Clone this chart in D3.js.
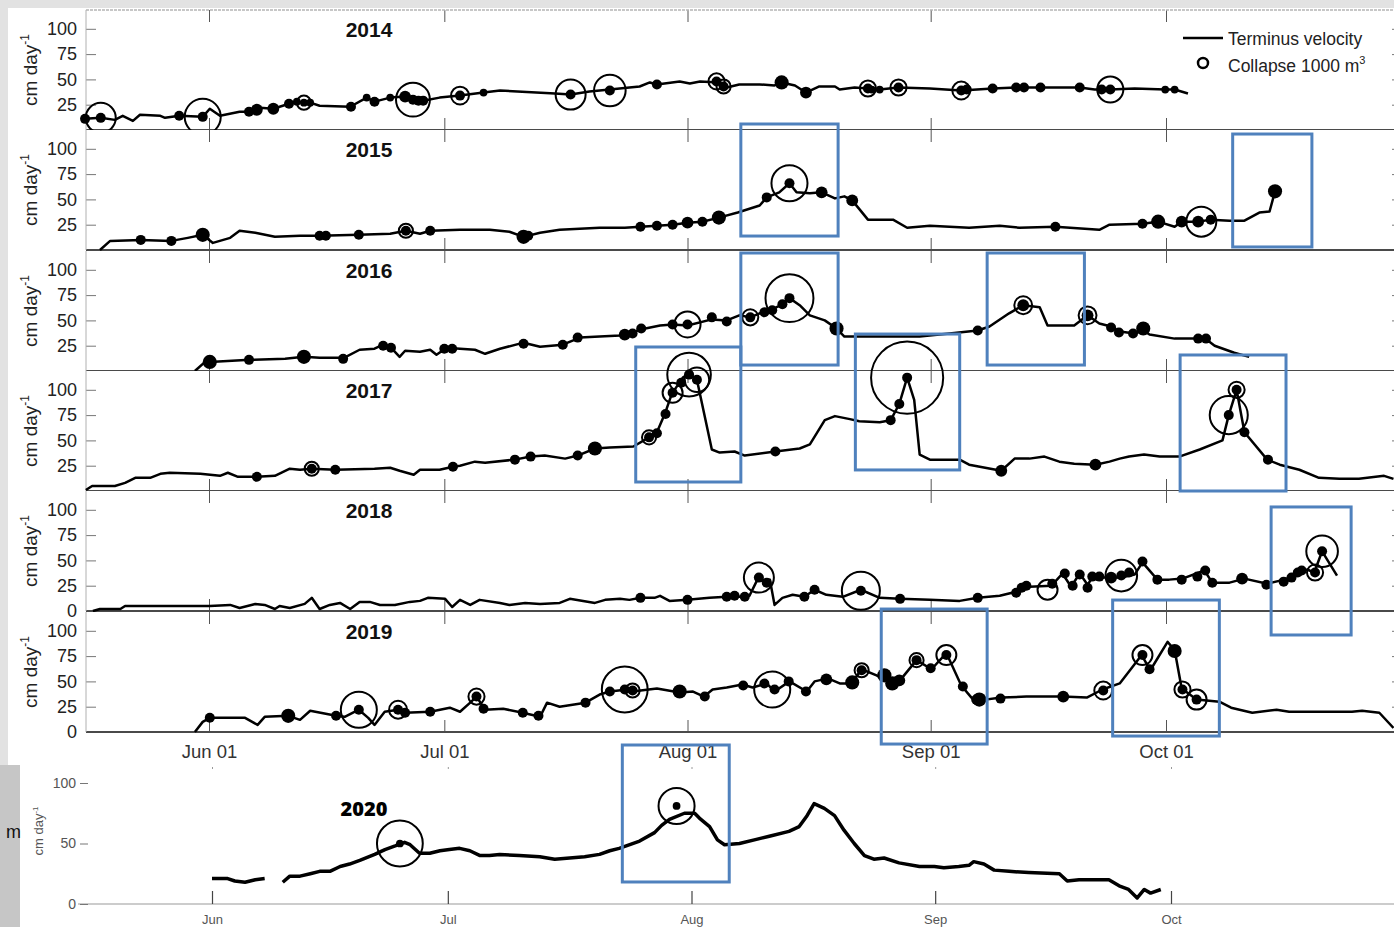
<!DOCTYPE html>
<html lang="en">
<head>
<meta charset="UTF-8">
<title>Terminus velocity and collapses 2014-2020</title>
<script src="https://d3js.org/d3.v7.min.js"></script>
<style>
  body { margin: 0; background: #e2e2e2; }
  svg { display: block; font-family: "Liberation Sans", Arial, sans-serif; }
</style>
</head>
<body>
<svg id="chart" width="1394" height="927"></svg>
<script>
// ---- data: [day of year, velocity cm/day] ----
const years = [2014, 2015, 2016, 2017, 2018, 2019];

const vel2014 = [[136.2,11],[138.2,12],[140.0,10],[141.0,14],[142.3,9],[143.2,15],[145.8,14],[146.4,12],[148.2,14],[151.2,13],[152.1,21],[153.4,14],[155.9,18],[157.1,18],[158.1,20],[158.5,22],[160.2,21],[162.2,26],[163.2,28],[164.1,27],[164.9,27],[166.1,24],[170.0,23],[172.1,32],[173.1,28],[175.1,32],[177.0,33],[178.0,30],[179.3,29],[181.4,32],[184.0,34],[187.0,37],[189.1,39],[196.1,36],[198.1,35],[200.5,38],[203.1,40],[205.6,42],[206.9,43],[208.2,47],[209.1,45],[212.0,48],[213.3,46],[214.6,48],[217.0,47],[218.0,42],[219.6,45],[222.2,45],[224.1,44],[225.0,47],[226.7,44],[228.1,37],[229.8,43],[231.8,43],[232.4,40],[234.3,42],[236.0,41],[237.5,40],[239.9,42],[243.9,41],[247.9,39],[251.9,41],[254.9,42],[258.0,42],[263.0,42],[264.9,40],[266.9,40],[270.0,41],[273.9,40],[275.1,40],[276.8,36]];
const vel2015 = [[138.1,0],[139.4,9],[143.3,10],[147.2,9],[149.3,12],[151.2,15],[152.5,7],[154.7,12],[155.9,19],[157.9,17],[160.4,13],[163.6,14],[166.1,14],[171.1,15],[175.1,16],[177.1,19],[178.9,16],[180.2,19],[184.0,20],[187.8,20],[190.3,18],[192.1,13],[194.2,17],[196.7,20],[201.8,22],[205.0,22],[207.0,23],[209.1,24],[211.1,25],[213.0,27],[214.9,28],[217.0,32],[219.4,37],[222.2,44],[223.1,52],[224.7,57],[226.0,66],[226.9,57],[228.6,56],[230.1,57],[231.8,51],[233.0,53],[234.0,49],[236.0,30],[239.2,30],[241.0,22],[243.9,24],[248.9,22],[252.8,24],[255.3,22],[259.9,23],[265.5,20],[266.8,25],[271.0,26],[273.0,28],[275.1,23],[276.0,28],[278.1,28],[279.7,30],[282.1,29],[284.0,29],[285.9,37],[287.2,38],[287.9,58]];
const vel2016 = [[150.2,0],[151.5,9],[152.1,9],[157.2,11],[161.7,12],[164.1,14],[166.1,13],[169.2,13],[171.2,21],[173.1,22],[174.2,26],[175.2,23],[176.3,14],[177.0,20],[178.9,19],[180.2,21],[181.0,16],[182.3,23],[184.0,22],[185.9,21],[187.2,17],[189.1,22],[192.1,28],[194.2,24],[197.1,26],[199.3,33],[201.8,34],[204.4,35],[205.3,36],[207.0,41],[209.5,45],[211.1,46],[213.0,45],[216.1,51],[218.0,50],[219.6,55],[221.0,53],[222.2,57],[223.5,60],[224.9,65],[226.0,72],[227.3,65],[228.6,55],[230.5,50],[232.0,42],[233.0,34],[234.9,34],[242.6,34],[246.4,37],[250.0,40],[251.5,44],[254.0,57],[255.8,65],[257.9,63],[258.9,45],[262.3,45],[264.0,55],[265.5,47],[267.0,44],[268.1,39],[270.0,37],[270.9,41],[271.9,36],[275.1,32],[278.3,32],[279.0,32],[280.2,25],[282.7,18],[284.6,14]];
const vel2017 = [[136.3,1],[137.1,5],[140.0,5],[141.3,8],[142.6,13],[144.5,13],[145.8,17],[147.0,18],[150.9,17],[153.4,15],[154.4,18],[155.7,14],[158.1,14],[160.4,15],[162.3,22],[163.6,21],[165.1,22],[168.1,21],[173.1,22],[175.1,23],[176.3,20],[178.1,16],[178.9,21],[181.4,21],[183.1,24],[184.0,25],[185.9,29],[187.2,28],[191.0,31],[193.0,34],[194.8,35],[197.4,32],[199.0,35],[201.2,42],[203.1,43],[206.1,44],[208.1,53],[209.1,58],[210.1,76],[211.0,96],[212.4,112],[213.2,116],[214.2,110],[216.1,41],[217.1,38],[219.0,39],[220.3,35],[224.2,39],[227.3,42],[228.6,46],[230.5,70],[231.8,74],[233.7,71],[234.9,69],[237.5,68],[238.9,70],[240.0,86],[241.0,112],[241.9,90],[242.6,36],[243.9,31],[247.7,31],[248.9,26],[253.0,20],[254.7,32],[256.6,32],[258.5,34],[260.4,29],[262.3,27],[265.0,26],[266.8,29],[268.1,32],[269.3,34],[271.2,36],[273.2,34],[275.7,34],[278.3,41],[281.2,50],[282.0,75],[283.0,100],[284.0,58],[286.9,31],[288.5,26],[291.0,21],[293.5,13],[296.1,12],[298.6,12],[301.8,15],[303.0,12]];
const vel2018 = [[137.2,0],[138.1,2],[140.7,2],[141.3,5],[152.1,5],[154.7,6],[155.9,3],[157.9,7],[159.1,6],[160.4,2],[161.0,5],[162.3,3],[164.2,7],[165.1,13],[166.1,2],[167.4,6],[168.7,8],[170.0,2],[171.2,9],[172.5,9],[173.8,6],[175.7,6],[177.6,9],[178.9,10],[179.9,13],[182.1,12],[183.0,4],[184.0,11],[185.3,6],[186.5,11],[189.1,8],[190.3,6],[192.3,8],[194.2,7],[196.7,8],[198.0,12],[201.2,8],[202.5,11],[204.4,12],[205.6,11],[207.0,13],[208.8,13],[209.5,15],[210.7,10],[213.0,11],[215.8,13],[218.0,14],[220.3,14],[220.9,15],[222.1,34],[223.1,28],[223.5,31],[224.1,6],[225.1,13],[226.4,16],[227.9,14],[229.2,21],[230.7,16],[232.8,14],[235.1,21],[237.5,13],[240.1,12],[243.9,11],[247.7,10],[250.0,13],[252.8,15],[254.9,19],[256.6,24],[259.4,25],[260.8,37],[261.9,24],[263.0,37],[264.0,26],[264.7,34],[265.5,33],[268.3,33],[270.0,36],[271.0,48],[272.9,31],[274.4,31],[276.1,32],[278.9,40],[279.9,28],[282.1,28],[284.0,32],[286.9,27],[289.1,31],[291.0,37],[292.0,41],[292.9,38],[293.9,59],[295.8,35]];
const vel2019 = [[150.2,0],[151.2,10],[152.1,14],[156.6,14],[158.2,7],[159.1,15],[162.1,16],[163.6,12],[164.9,21],[168.2,16],[169.3,15],[171.1,22],[172.3,14],[173.1,7],[174.4,20],[176.1,22],[177.0,19],[180.2,20],[182.7,24],[184.0,20],[185.3,29],[186.1,35],[187.2,22],[189.5,23],[192.0,19],[194.2,15],[195.1,29],[196.7,25],[200.0,29],[201.8,37],[203.1,40],[205.3,42],[206.0,40],[209.1,43],[212.0,39],[213.7,40],[215.1,35],[216.2,42],[218.0,44],[220.0,47],[221.3,44],[223.1,48],[224.1,40],[226.0,50],[228.2,40],[229.2,50],[230.9,53],[232.4,48],[233.9,48],[235.2,62],[237.1,56],[239.1,48],[240.4,54],[242.2,71],[244.1,62],[246.0,78],[247.9,46],[249.2,34],[250.0,31],[253.0,34],[256.2,35],[260.8,35],[263.9,34],[265.9,42],[268.1,48],[269.7,64],[270.9,76],[272.0,61],[274.2,89],[275.1,81],[276.0,43],[277.9,32],[280.8,30],[282.3,24],[285.0,19],[288.1,22],[289.7,20],[297.7,20],[299.0,21],[301.2,19],[303.0,4]];
const vel2020a = [[152.0,21],[153.0,21],[154.0,21],[154.9,19],[156.2,18],[157.5,20],[158.7,21]];
const vel2020b = [[161.0,18],[161.9,23],[163.2,23],[164.5,25],[165.7,27],[167.0,27],[168.3,31],[169.5,33],[170.8,36],[172.7,41],[174.0,45],[175.3,48],[176.5,51],[177.2,49],[178.4,42],[179.7,42],[181.0,44],[182.2,45],[183.5,46],[184.8,44],[186.1,40],[187.3,40],[188.6,41],[191.1,40],[193.7,39],[195.6,37],[197.5,38],[199.4,39],[201.3,41],[202.6,44],[203.8,46],[206.4,52],[208.3,59],[209.2,65],[210.2,70],[212.1,75],[213.4,75],[214.0,71],[215.3,64],[216.3,53],[217.2,49],[219.1,50],[221.0,53],[222.9,56],[225.4,60],[226.7,64],[227.7,73],[228.6,83],[229.9,79],[231.2,73],[232.4,61],[233.7,50],[235.0,40],[236.2,37],[237.5,38],[239.4,34],[242.0,31],[243.9,31],[245.1,30],[247.0,31],[248.3,32],[248.9,35],[250.2,33],[251.5,28],[253.4,27],[255.9,26],[259.8,25],[260.8,19],[262.3,20],[266.1,20],[267.4,15],[268.6,12],[269.7,5],[270.6,12],[271.4,9],[272.7,12]];

// ---- collapses: [day of year, velocity, dot volume (1000 m3), ring volume (1000 m3)] ----
const col2014 = [[136.2,11,1,0],[138.2,12,1,9],[148.2,14,1,0],[151.2,13,1,13],[157.1,18,1,0],[158.1,20,1.4,0],[160.2,21,1.4,0],[162.2,26,1,0],[163.2,28,0.6,0],[164.1,27,0.6,2],[164.9,27,0.6,0],[170.1,23,1,0],[172.1,32,0.6,0],[173.1,28,1,0],[175.1,32,0.6,0],[177.0,33,1.4,0],[178.0,30,1,11.5],[178.7,29,1,0],[179.3,29,1,0],[184.0,34,1,3.2],[187.0,37,0.6,0],[198.1,35,1,9],[203.1,39,1,10],[209.1,45,1,0],[216.7,48,1,2.6],[217.6,43,1,2],[225.0,47,2,0],[228.1,37,1.4,0],[236.0,41,1,2.6],[236.5,40,0.6,0],[237.5,40,0.6,0],[239.9,42,1,2.6],[247.9,39,1,3.2],[248.6,40,1,0],[251.9,41,1,0],[254.9,42,1,0],[255.9,42,1,0],[258.0,42,1,0],[263.0,42,1,0],[265.8,40,1,0],[266.9,40,1,6.8],[273.9,40,0.6,0],[275.1,40,0.6,0]];
const col2015 = [[143.3,10,1,0],[147.2,9,1,0],[151.2,15,2,0],[166.1,14,1,0],[166.9,14,1,0],[171.1,15,1,0],[177.1,19,1,2],[180.2,19,1,0],[192.1,13,2,0],[192.7,14,1,0],[207.0,23,1,0],[209.1,24,1,0],[211.1,25,1,0],[213.0,27,1.4,0],[214.9,28,1,0],[217.0,32,2,0],[223.1,52,1,0],[226.0,66,1,13],[230.1,57,1.4,0],[234.0,49,1.4,0],[259.9,23,1,0],[271.0,26,1,0],[273.0,28,2,0],[276.0,28,1.4,0],[278.1,28,1.4,0],[278.5,28,0,9],[279.7,30,1,0],[287.9,58,2,0]];
const col2016 = [[152.1,9,2,0],[157.1,11,1,0],[164.1,14,2,0],[169.1,12,1,0],[174.2,25,1,0],[175.2,23,1,0],[182.0,22,1,0],[183.0,22,1,0],[192.1,27,1,0],[197.1,26,1,0],[199.0,33,1,0],[205.0,36,1.4,0],[206.0,37,1,0],[207.1,42,1,0],[211.1,46,1,0],[213.0,46,1,6.8],[216.1,53,1,0],[218.0,49,1,0],[221.0,53,1,2.6],[222.8,58,1,0],[223.8,60,1,0],[225.1,66,1,0],[226.0,72,1,23],[232.0,42,2,0],[250.0,40,1,0],[255.8,65,1.4,3.2],[264.0,55,1.4,3.2],[267.0,43,1,0],[268.0,38,1,0],[269.8,37,1,0],[271.1,42,2,0],[278.1,32,1,0],[279.1,32,1,0]];
const col2017 = [[158.1,14,1,0],[165.1,22,1,2],[168.1,21,1,0],[183.1,24,1,0],[191.0,31,1,0],[193.0,34,1,0],[199.0,35,1,0],[201.2,42,2,0],[208.1,53,1,2],[209.1,57,1,0],[210.2,76,1,0],[211.1,97,1,4],[212.2,107,1,0],[213.2,115,1,19],[214.2,110,1,6],[224.2,39,1,0],[238.9,70,1,0],[240.0,86,1,0],[241.0,112,1,52],[253.0,20,1.4,0],[265.0,26,1.4,0],[282.0,75,1,14.5],[283.0,100,1,2.6],[284.0,58,1,0],[287.0,31,1,0]];
const col2018 = [[207.0,13,1,0],[213.0,11,1,0],[218.0,14,1,0],[219.0,15,1,0],[220.3,14,1,0],[222.1,33,1,9],[223.1,28,1,0],[227.9,14,1,0],[229.2,21,1,0],[235.1,20,1,14.5],[240.1,12,1,0],[250.0,13,1,0],[254.9,18,1,0],[255.6,23,1,0],[256.2,25,1,0],[258.9,21,0,4],[259.5,27,1,0],[261.1,37,1,0],[262.1,25,1,0],[263.0,36,1,0],[264.0,23,1,0],[264.6,34,1,0],[265.5,34,1,0],[267.0,33,1.4,0],[268.3,35,1,10],[269.3,38,1,0],[271.0,49,1,0],[272.9,31,1,0],[276.0,31,1,0],[278.0,34,1,0],[279.0,40,1,0],[279.9,28,1,0],[283.7,32,1.4,0],[286.8,26,1,0],[289.0,29,1,0],[290.0,33,1,0],[290.8,38,1,0],[291.3,40,1,0],[293.0,38,1,2.6],[293.9,59,1,10]];
const col2019 = [[152.1,14,1,0],[162.1,16,2,0],[168.2,16,1,0],[171.1,22,1,13],[176.1,22,1,3.2],[177.0,19,1,0],[180.2,20,1,0],[186.1,35,1,2.6],[187.0,23,1,0],[192.0,19,1,0],[194.0,16,1,0],[200.0,29,1,0],[203.1,40,1,0],[205.0,42,1,21],[206.0,41,1,2],[212.0,40,2,0],[215.2,35,1,0],[220.1,46,1,0],[222.8,48,1,0],[223.8,42,0,13],[224.1,42,1,0],[225.9,50,1,0],[228.1,40,1,0],[230.7,52,1.4,0],[234.0,49,2,0],[235.2,61,1,2],[238.1,56,2,0],[239.1,48,2,0],[240.0,51,1.4,0],[242.2,71,1,2],[244.0,63,1,0],[246.0,76,1,4],[248.1,45,1,0],[249.8,32,1,0],[250.2,32,2,0],[252.9,33,1,0],[260.9,35,1.4,0],[266.0,41,1,3.2],[271.0,76,1,4],[271.9,62,1,0],[275.1,80,2,0],[276.1,42,1,2.6],[277.9,32,1,4]];
const col2020 = [[175.9,50,0.6,21],[211.1,81,0.6,13]];

const velocity = [vel2014, vel2015, vel2016, vel2017, vel2018, vel2019];
const collapses = [col2014, col2015, col2016, col2017, col2018, col2019];

// highlighted windows: [year, first day, last day, low velocity, high velocity]
const highlights = [[2015,219.8,232.2,13.8,124.5],[2015,282.5,292.6,3.0,114.6],[2016,219.8,232.2,5.9,116.6],[2016,251.2,263.6,5.9,116.6],[2017,206.4,219.8,8.9,142.3],[2017,234.4,247.7,20.8,155.1],[2017,275.8,289.3,0,134.4],[2018,287.4,297.6,-23.7,102.8],[2019,237.7,251.2,-11.9,121.5],[2019,267.2,280.8,-4.0,130.4]];
const highlight2020 = [204.2,217.8,18.2,131.4];

const yTicks = [25, 50, 75, 100];
const yTicksZero = [0, 25, 50, 75, 100];
const yTicks2020 = [0, 50, 100];

// day of year -> date (non-leap reference year)
function day(doy) { return new Date(Date.UTC(2015, 0, 1) + (doy - 1) * 864e5); }

const svg = d3.select("#chart");
const rad = d3.scaleSqrt().domain([0, 1]).range([0, 5]);

// background sheets
svg.append("rect").attr("x", 8).attr("y", 8).attr("width", 1386).attr("height", 757).attr("fill", "#fff");
svg.append("rect").attr("x", 20).attr("y", 765).attr("width", 1374).attr("height", 162).attr("fill", "#fff");
svg.append("rect").attr("x", 0).attr("y", 765).attr("width", 20).attr("height", 162).attr("fill", "#c6c6c6");

// ---- stacked panels 2014-2019 ----
const left = 86, right = 1402, panelH = 120;
const bottoms = [130, 250, 371, 491, 611, 732];
const x = d3.scaleUtc().domain([day(152), day(274)]).range([209, 1166]);
const monthTicks = d3.utcMonth.every(1);

years.forEach((yr, i) => {
    const b = bottoms[i];
    const y = d3.scaleLinear().domain([0, 100]).range([b, b - 101.2]);
    const g = svg.append("g");

    g.append("rect").attr("x", left).attr("y", b - panelH).attr("width", right - left).attr("height", panelH).attr("fill", "#fff");

    const ticks = (yr >= 2018) ? yTicksZero : yTicks;
    const ya = g.append("g").attr("transform", `translate(${left},0)`)
        .call(d3.axisLeft(y).tickValues(ticks).tickSize(-10).tickPadding(9));
    ya.select(".domain").remove();
    ya.selectAll("line").attr("stroke", "#777");
    ya.selectAll("text").attr("font-size", 18).attr("fill", "#222");

    const yr2 = g.append("g").attr("transform", `translate(${right},0)`)
        .call(d3.axisRight(y).tickValues(ticks).tickSize(-10).tickFormat(""));
    yr2.select(".domain").remove();
    yr2.selectAll("line").attr("stroke", "#777");

    const xb = g.append("g").attr("transform", `translate(0,${b})`)
        .call(d3.axisBottom(x).ticks(monthTicks).tickSize(-12).tickPadding(13)
            .tickFormat(i === 5 ? d3.utcFormat("%b %d") : ""));
    xb.select(".domain").remove();
    xb.selectAll("line").attr("stroke", "#555");
    xb.selectAll("text").attr("font-size", 18.5).attr("fill", "#333");

    const xt = g.append("g").attr("transform", `translate(0,${b - panelH})`)
        .call(d3.axisTop(x).ticks(monthTicks).tickSize(-12).tickFormat(""));
    xt.select(".domain").remove();
    xt.selectAll("line").attr("stroke", "#555");

    // frame
    g.append("line").attr("x1", left).attr("x2", right).attr("y1", b).attr("y2", b)
        .attr("stroke", "#4a4a4a").attr("stroke-width", 1.8);
    g.append("line").attr("x1", left).attr("x2", left).attr("y1", b - panelH).attr("y2", b)
        .attr("stroke", "#b0b0b0").attr("stroke-width", 1);
    if (i === 0) {
        g.append("line").attr("x1", left).attr("x2", right).attr("y1", b - panelH).attr("y2", b - panelH)
            .attr("stroke", "#b5b5b5").attr("stroke-width", 1.5).attr("stroke-dasharray", "3,1");
    }

    // y label
    const lab = g.append("text").attr("transform", `translate(37,${b - 60}) rotate(-90)`)
        .attr("text-anchor", "middle").attr("font-size", 19).attr("fill", "#222");
    lab.append("tspan").text("cm day");
    lab.append("tspan").attr("dy", -8).attr("font-size", 12).text("-1");

    // year
    g.append("text").attr("x", 369).attr("y", b - panelH + 27).attr("text-anchor", "middle")
        .attr("font-size", 21).attr("font-weight", "bold").attr("fill", "#111").text(yr);

    // velocity line
    const line = d3.line().x(d => x(day(d[0]))).y(d => y(d[1]));
    g.append("path").datum(velocity[i]).attr("d", line)
        .attr("fill", "none").attr("stroke", "#000").attr("stroke-width", 2.5).attr("stroke-linejoin", "round");

    // collapse events
    const ev = collapses[i];
    g.selectAll(".dot").data(ev.filter(d => d[2] > 0)).enter().append("circle")
        .attr("cx", d => x(day(d[0]))).attr("cy", d => y(d[1])).attr("r", d => rad(d[2])).attr("fill", "#000");
    g.selectAll(".ring").data(ev.filter(d => d[3] > 0)).enter().append("circle")
        .attr("cx", d => x(day(d[0]))).attr("cy", d => y(d[1])).attr("r", d => rad(d[3]))
        .attr("fill", "none").attr("stroke", "#000").attr("stroke-width", 2);
});

// legend
const leg = svg.append("g");
leg.append("line").attr("x1", 1183).attr("x2", 1223).attr("y1", 38).attr("y2", 38).attr("stroke", "#000").attr("stroke-width", 2.5);
leg.append("text").attr("x", 1228).attr("y", 45).attr("font-size", 17.5).attr("fill", "#222").text("Terminus velocity");
leg.append("circle").attr("cx", 1203).attr("cy", 63).attr("r", rad(1)).attr("fill", "none").attr("stroke", "#000").attr("stroke-width", 2.5);
const lt = leg.append("text").attr("x", 1228).attr("y", 72).attr("font-size", 17.5).attr("fill", "#222");
lt.append("tspan").text("Collapse 1000 m");
lt.append("tspan").attr("dy", -8).attr("font-size", 11).text("3");

// ---- 2020 panel ----
const x20 = d3.scaleUtc().domain([day(152), day(274)]).range([212, 1171]);
const y20 = d3.scaleLinear().domain([0, 100]).range([904, 783]);
const g20 = svg.append("g");

g20.append("line").attr("x1", 78).attr("x2", 1394).attr("y1", 904).attr("y2", 904).attr("stroke", "#999").attr("stroke-width", 1.2);
const xb20 = g20.append("g").attr("transform", "translate(0,904)")
    .call(d3.axisBottom(x20).ticks(monthTicks).tickSize(-13).tickPadding(11).tickFormat(d3.utcFormat("%b")));
xb20.select(".domain").remove();
xb20.selectAll("line").attr("stroke", "#444").attr("stroke-width", 1.2);
xb20.selectAll("text").attr("font-size", 13).attr("fill", "#555");
const xt20 = g20.append("g").attr("transform", "translate(0,767)")
    .call(d3.axisTop(x20).ticks(monthTicks).tickSize(-2).tickFormat(""));
xt20.select(".domain").remove();
xt20.selectAll("line").attr("stroke", "#999");

const ya20 = g20.append("g").attr("transform", "translate(80,0)")
    .call(d3.axisLeft(y20).tickValues(yTicks2020).tickSize(-8).tickPadding(4));
ya20.select(".domain").remove();
ya20.selectAll("line").attr("stroke", "#777");
ya20.selectAll("text").attr("font-size", 14).attr("fill", "#555");

const lab20 = g20.append("text").attr("transform", "translate(43,831) rotate(-90)")
    .attr("text-anchor", "middle").attr("font-size", 13).attr("fill", "#555");
lab20.append("tspan").text("cm day");
lab20.append("tspan").attr("dy", -5).attr("font-size", 8).text("-1");

g20.append("text").attr("x", 364).attr("y", 816).attr("text-anchor", "middle")
    .attr("font-family", "'Open Sans', 'Noto Sans', sans-serif").attr("font-weight", 800)
    .attr("font-size", 20).attr("fill", "#000").text("2020");

const line20 = d3.line().x(d => x20(day(d[0]))).y(d => y20(d[1]));
[vel2020a, vel2020b].forEach(seg => {
    g20.append("path").datum(seg).attr("d", line20).attr("fill", "none")
        .attr("stroke", "#000").attr("stroke-width", 3.5).attr("stroke-linejoin", "round");
});
g20.selectAll(".dot").data(col2020).enter().append("circle")
    .attr("cx", d => x20(day(d[0]))).attr("cy", d => y20(d[1])).attr("r", d => rad(d[2])).attr("fill", "#000");
g20.selectAll(".ring").data(col2020).enter().append("circle")
    .attr("cx", d => x20(day(d[0]))).attr("cy", d => y20(d[1])).attr("r", d => rad(d[3]))
    .attr("fill", "none").attr("stroke", "#000").attr("stroke-width", 2);

svg.append("text").attr("x", 6).attr("y", 838).attr("font-size", 18).attr("fill", "#111").text("m");

// ---- highlight boxes ----
const hl = svg.append("g").attr("fill", "none").attr("stroke", "#4f81bd").attr("stroke-width", 3);
highlights.forEach(h => {
    const b = bottoms[years.indexOf(h[0])];
    const y = d3.scaleLinear().domain([0, 100]).range([b, b - 101.2]);
    hl.append("rect").attr("x", x(day(h[1]))).attr("y", y(h[4]))
        .attr("width", x(day(h[2])) - x(day(h[1]))).attr("height", y(h[3]) - y(h[4]));
});
hl.append("rect").attr("x", x20(day(highlight2020[0]))).attr("y", y20(highlight2020[3]))
    .attr("width", x20(day(highlight2020[1])) - x20(day(highlight2020[0])))
    .attr("height", y20(highlight2020[2]) - y20(highlight2020[3]));
</script>
</body>
</html>
